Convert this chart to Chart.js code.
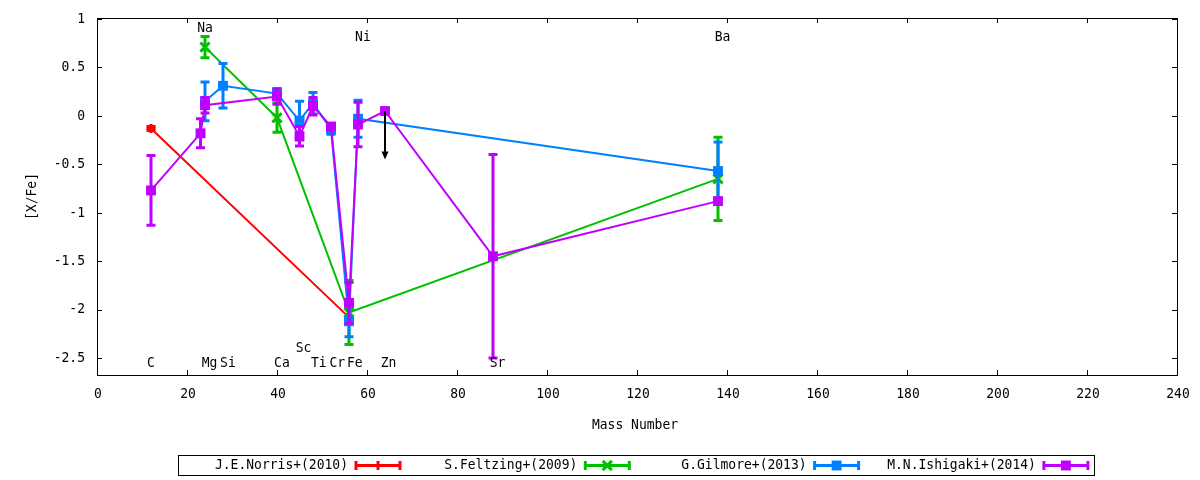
<!DOCTYPE html>
<html><head><meta charset="utf-8">
<script src="https://cdn.jsdelivr.net/npm/chart.js"></script>
<style>html,body{margin:0;padding:0;background:#fff;} #wrap{width:1200px;height:480px;}</style>
</head><body><div id="wrap"><canvas id="c" width="1200" height="480"></canvas></div>
<script>
// ---- data ----
const seriesNames = ['J.E.Norris+(2010)', 'S.Feltzing+(2009)', 'G.Gilmore+(2013)', 'M.N.Ishigaki+(2014)'];
const seriesColors = ['#ff0000', '#00c000', '#0080ff', '#c000ff'];

const norrisMass = [12, 56];
const norrisVal  = [-0.13, -2.08];
const norrisErr  = [0.02, 0];

const feltzingMass = [24, 40, 56, 138];
const feltzingVal  = [0.71, -0.02, -2.03, -0.65];
const feltzingErr  = [0.11, 0.15, 0.33, 0.43];

const gilmoreMass = [24, 28, 40, 45, 48, 52, 56, 58, 138];
const gilmoreVal  = [0.15, 0.31, 0.23, -0.05, 0.13, -0.14, -2.12, -0.03, -0.57];
const gilmoreErr  = [0.20, 0.23, 0.05, 0.20, 0.11, 0.05, 0.16, 0.19, 0.30];

const ishigakiMass = [12, 23, 24, 40, 45, 48, 52, 56, 58, 64, 88, 138];
const ishigakiVal  = [-0.77, -0.18, 0.11, 0.20, -0.21, 0.10, -0.11, -1.93, -0.09, 0.05, -1.45, -0.88];
const ishigakiErr  = [0.36, 0.15, 0.08, 0.08, 0.10, 0.09, 0.03, 0.21, 0.23, 0, 1.05, 0];

// upper limit (arrow)
const limitMass = [64];
const limitFrom = [0.05];
const limitTo   = [-0.45];

const xTicks = [0, 20, 40, 60, 80, 100, 120, 140, 160, 180, 200, 220, 240];
const yTicks = [-2.5, -2, -1.5, -1, -0.5, 0, 0.5, 1];

const elementNames  = ['C', 'Na', 'Mg', 'Si', 'Ca', 'Sc', 'Ti', 'Cr', 'Fe', 'Ni', 'Zn', 'Sr', 'Ba'];
const elementLabelX = [12, 24, 25, 29.1, 41.1, 45.9, 49.3, 53.4, 57.3, 59.1, 64.8, 89, 139];
const elementLabelY = [-2.55, 0.91, -2.55, -2.55, -2.55, -2.40, -2.55, -2.55, -2.55, 0.81, -2.55, -2.55, 0.81];

const xTitle = 'Mass Number';
const yTitle = '[X/Fe]';

// ---- build ----
const FONT = '13px "DejaVu Sans Mono", monospace';
const STRETCH = 1.13;
function pts(xs, ys) { return xs.map((x, i) => ({x: x, y: ys[i]})); }
const styles = [
  {pointStyle: 'cross', radius: 4.5, bw: 3},
  {pointStyle: 'crossRot', radius: 6.5, bw: 3},
  {pointStyle: 'rect', radius: 7, bw: 0},
  {pointStyle: 'rect', radius: 7, bw: 0}
];
const allMass = [norrisMass, feltzingMass, gilmoreMass, ishigakiMass];
const allVal = [norrisVal, feltzingVal, gilmoreVal, ishigakiVal];
const allErr = [norrisErr, feltzingErr, gilmoreErr, ishigakiErr];

const datasets = seriesNames.map((name, i) => ({
  label: name,
  data: pts(allMass[i], allVal[i]),
  err: allErr[i],
  showLine: true,
  borderColor: seriesColors[i],
  backgroundColor: seriesColors[i],
  borderWidth: 2,
  pointStyle: styles[i].pointStyle,
  pointRadius: styles[i].radius,
  pointBorderWidth: styles[i].bw,
  pointBorderColor: seriesColors[i],
  pointBackgroundColor: seriesColors[i],
  order: 4 - i,
  tension: 0
}));

function text(ctx, str, x, y, align) {
  ctx.save();
  ctx.font = FONT; ctx.fillStyle = '#000';
  ctx.textAlign = align || 'center'; ctx.textBaseline = 'middle';
  ctx.translate(x, y); ctx.scale(1, STRETCH);
  ctx.fillText(str, 0, 0);
  ctx.restore();
}

function drawMarker(ctx, style, color, x, y) {
  ctx.save();
  ctx.strokeStyle = color; ctx.fillStyle = color; ctx.lineWidth = style.bw || 3;
  if (style.pointStyle === 'cross') {
    const r = style.radius;
    ctx.beginPath(); ctx.moveTo(x - r, y); ctx.lineTo(x + r, y); ctx.moveTo(x, y - r); ctx.lineTo(x, y + r); ctx.stroke();
  } else if (style.pointStyle === 'crossRot') {
    const r = style.radius * Math.SQRT1_2;
    ctx.beginPath(); ctx.moveTo(x - r, y - r); ctx.lineTo(x + r, y + r); ctx.moveTo(x - r, y + r); ctx.lineTo(x + r, y - r); ctx.stroke();
  } else {
    const s = style.radius * Math.SQRT1_2;
    ctx.fillRect(x - s, y - s, 2 * s, 2 * s);
  }
  ctx.restore();
}

const CAP = 4.5;
const errorBars = {
  id: 'errorBars',
  beforeDatasetDraw(chart, args) {
    const ds = chart.data.datasets[args.index];
    if (!ds.err) return;
    const ctx = chart.ctx, xs = chart.scales.x, ys = chart.scales.y;
    ctx.save();
    ctx.strokeStyle = ds.borderColor; ctx.lineWidth = 3; ctx.lineCap = 'butt';
    ds.data.forEach((p, i) => {
      const e = ds.err[i];
      if (!e) return;
      const px = xs.getPixelForValue(p.x);
      const y1 = ys.getPixelForValue(p.y + e), y2 = ys.getPixelForValue(p.y - e);
      ctx.beginPath();
      ctx.moveTo(px, y1); ctx.lineTo(px, y2);
      ctx.moveTo(px - CAP, y1); ctx.lineTo(px + CAP, y1);
      ctx.moveTo(px - CAP, y2); ctx.lineTo(px + CAP, y2);
      ctx.stroke();
    });
    ctx.restore();
  }
};

const decorations = {
  id: 'decorations',
  afterDatasetsDraw(chart) {
    const ctx = chart.ctx, xs = chart.scales.x, ys = chart.scales.y;
    ctx.save();
    ctx.strokeStyle = '#000'; ctx.fillStyle = '#000'; ctx.lineWidth = 2;
    limitMass.forEach((m, i) => {
      const px = xs.getPixelForValue(m);
      const y1 = ys.getPixelForValue(limitFrom[i]), y2 = ys.getPixelForValue(limitTo[i]);
      ctx.beginPath(); ctx.moveTo(px, y1); ctx.lineTo(px, y2 - 6); ctx.stroke();
      ctx.beginPath(); ctx.moveTo(px - 3.5, y2 - 8); ctx.lineTo(px + 3.5, y2 - 8); ctx.lineTo(px, y2); ctx.closePath(); ctx.fill();
    });
    ctx.restore();
  },
  afterDraw(chart) {
    const ctx = chart.ctx, xs = chart.scales.x, ys = chart.scales.y, a = chart.chartArea;
    ctx.save();
    // frame
    ctx.strokeStyle = '#000'; ctx.lineWidth = 1;
    ctx.strokeRect(Math.round(a.left) + 0.5, Math.round(a.top) + 0.5, Math.round(a.right - a.left), Math.round(a.bottom - a.top));
    // inward ticks (mirrored) + tick labels
    const TL = 5;
    ctx.beginPath();
    xTicks.forEach(v => {
      const px = Math.round(xs.getPixelForValue(v)) + 0.5;
      ctx.moveTo(px, a.bottom); ctx.lineTo(px, a.bottom - TL);
      ctx.moveTo(px, a.top); ctx.lineTo(px, a.top + TL);
    });
    yTicks.forEach(v => {
      const py = Math.round(ys.getPixelForValue(v)) + 0.5;
      ctx.moveTo(a.left, py); ctx.lineTo(a.left + TL, py);
      ctx.moveTo(a.right, py); ctx.lineTo(a.right - TL, py);
    });
    ctx.stroke();
    xTicks.forEach(v => text(ctx, String(v), xs.getPixelForValue(v) + 1, a.bottom + 19, 'center'));
    yTicks.forEach(v => text(ctx, String(v), a.left - 12, ys.getPixelForValue(v), 'right'));
    // element labels
    elementNames.forEach((n, i) => {
      text(ctx, n, xs.getPixelForValue(elementLabelX[i]), ys.getPixelForValue(elementLabelY[i]), 'center');
    });
    // axis titles
    text(ctx, xTitle, (a.left + a.right) / 2 - 2, 425, 'center');
    ctx.save();
    ctx.translate(32, (a.top + a.bottom) / 2);
    ctx.rotate(-Math.PI / 2);
    text(ctx, yTitle, 0, 0, 'center');
    ctx.restore();
    // legend
    const lx = 178, ly = 455, lw = 916, lh = 20;
    ctx.strokeStyle = '#000'; ctx.lineWidth = 1;
    ctx.strokeRect(lx + 0.5, ly + 0.5, lw, lh);
    const cy = ly + lh / 2 + 0.5;
    seriesNames.forEach((n, i) => {
      const tr = 348 + i * 229.3;
      text(ctx, n, tr, cy, 'right');
      const x1 = tr + 8, x2 = tr + 52;
      ctx.strokeStyle = seriesColors[i]; ctx.lineWidth = 3;
      ctx.beginPath();
      ctx.moveTo(x1, cy); ctx.lineTo(x2, cy);
      ctx.moveTo(x1, cy - CAP); ctx.lineTo(x1, cy + CAP);
      ctx.moveTo(x2, cy - CAP); ctx.lineTo(x2, cy + CAP);
      ctx.stroke();
      drawMarker(ctx, styles[i], seriesColors[i], (x1 + x2) / 2, cy);
    });
    ctx.restore();
  }
};

new Chart(document.getElementById('c'), {
  type: 'scatter',
  data: {datasets: datasets},
  options: {
    responsive: false,
    devicePixelRatio: 1,
    animation: false,
    events: [],
    layout: {padding: {top: 18, right: 23, left: 0, bottom: 0}},
    plugins: {legend: {display: false}, tooltip: {enabled: false}},
    scales: {
      x: {
        type: 'linear', min: 0, max: 240,
        afterBuildTicks: s => { s.ticks = xTicks.map(v => ({value: v})); },
        afterFit: s => { s.height = 105; },
        grid: {display: false, drawTicks: false},
        border: {display: false},
        ticks: {display: false}
      },
      y: {
        type: 'linear', min: -2.675, max: 1.01,
        afterBuildTicks: s => { s.ticks = yTicks.map(v => ({value: v})); },
        afterFit: s => { s.width = 97; },
        grid: {display: false, drawTicks: false},
        border: {display: false},
        ticks: {display: false}
      }
    }
  },
  plugins: [errorBars, decorations]
});
</script>
</body></html>
